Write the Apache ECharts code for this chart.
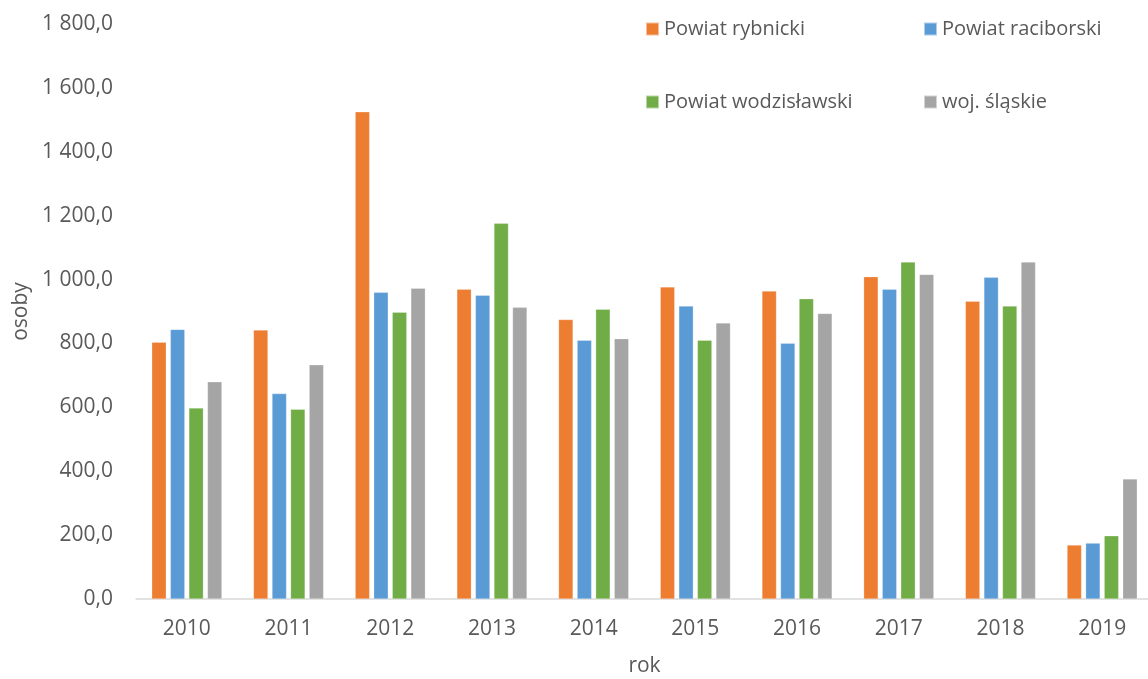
<!DOCTYPE html>
<html>
<head>
<meta charset="utf-8">
<script src="https://cdn.jsdelivr.net/npm/echarts@6/dist/echarts.min.js"></script>
<style>
  html, body { margin: 0; padding: 0; background: #fff; }
  #chart { width: 1148px; height: 679px; }
</style>
</head>
<body>
<div id="chart"></div>
<script>
  // dane
  const years = ['2010', '2011', '2012', '2013', '2014', '2015', '2016', '2017', '2018', '2019'];
  const rybnicki = [804, 842, 1525, 970, 875, 977, 964, 1009, 932, 169];
  const raciborski = [844, 643, 960, 951, 810, 917, 801, 970, 1007, 175];
  const wodzislawski = [598, 594, 898, 1176, 907, 810, 940, 1055, 917, 198];
  const slaskie = [680, 733, 973, 913, 815, 864, 894, 1016, 1055, 376];
  const seriesNames = ['Powiat rybnicki', 'Powiat raciborski', 'Powiat wodzisławski', 'woj. śląskie'];
  const colors = ['#ED7D31', '#5B9BD5', '#70AD47', '#A5A5A5'];

  const font = '"Open Sans", "Noto Sans", sans-serif';
  const textColor = '#595959';

  function fmt(v) {
    let parts = v.toFixed(1).split('.');
    let intPart = parts[0].replace(/\B(?=(\d{3})+(?!\d))/g, ' ');
    return intPart + ',' + parts[1];
  }

  // legenda 2x2 - osobna legenda dla kazdej pozycji
  const legendPos = [
    {left: 645, top: 19},
    {left: 923, top: 19},
    {left: 645, top: 92},
    {left: 923, top: 92}
  ];
  const legends = seriesNames.map((n, i) => ({
    data: [n],
    left: legendPos[i].left,
    top: legendPos[i].top,
    icon: 'rect',
    itemWidth: 13,
    itemHeight: 13,
    padding: 0,
    textStyle: {color: textColor, fontSize: 20, fontFamily: font}
  }));

  const allData = [rybnicki, raciborski, wodzislawski, slaskie];

  let myChart = echarts.init(document.getElementById('chart'));
  myChart.setOption({
    animation: false,
    color: colors,
    legend: legends,
    grid: {
      left: 136,
      top: 24,
      width: 1017,
      height: 575,
      outerBoundsMode: 'none'
    },
    xAxis: {
      type: 'category',
      data: years,
      name: 'rok',
      nameLocation: 'middle',
      nameGap: 57,
      nameTextStyle: {color: textColor, fontSize: 21, fontFamily: font},
      axisLine: {lineStyle: {color: '#D9D9D9', width: 1.5}},
      axisTick: {show: false},
      axisLabel: {color: textColor, fontSize: 21, fontFamily: font, margin: 20}
    },
    yAxis: {
      type: 'value',
      min: 0,
      max: 1800,
      interval: 200,
      name: 'osoby',
      nameLocation: 'middle',
      nameGap: 104,
      nameTextStyle: {color: textColor, fontSize: 21, fontFamily: font},
      axisLine: {show: false},
      axisTick: {show: false},
      splitLine: {show: false},
      axisLabel: {
        color: textColor, fontSize: 21, fontFamily: font, margin: 23,
        formatter: v => fmt(v)
      }
    },
    series: allData.map((d, i) => ({
      name: seriesNames[i],
      type: 'bar',
      data: d,
      barWidth: 14.5,
      barGap: '28%',
      itemStyle: {color: colors[i], borderColor: 'rgba(255,255,255,0.5)', borderWidth: 0.5}
    }))
  });
</script>
</body>
</html>
